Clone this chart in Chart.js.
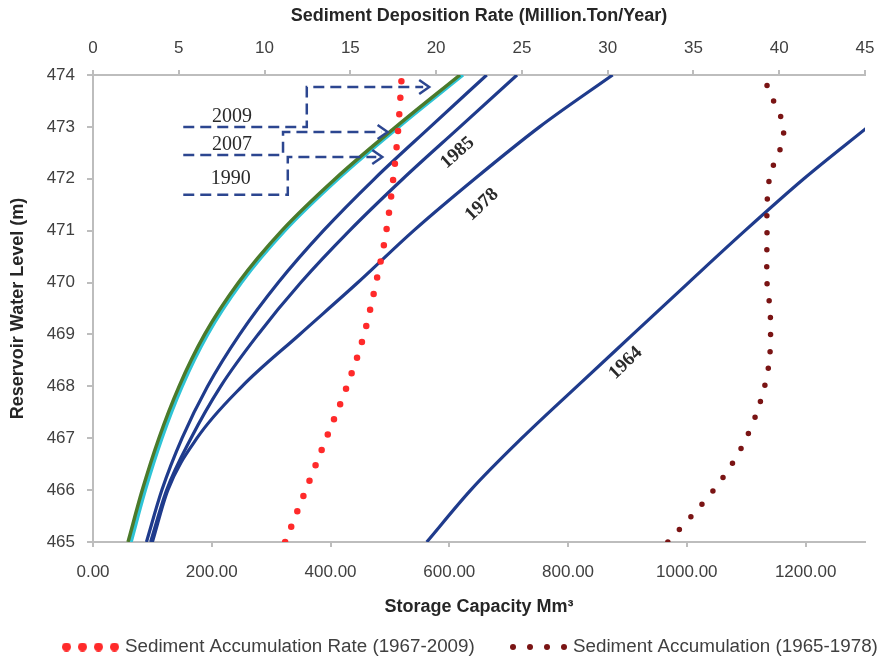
<!DOCTYPE html>
<html>
<head>
<meta charset="utf-8">
<script src="https://cdn.jsdelivr.net/npm/chart.js@4.4.0/dist/chart.umd.min.js"></script>
<style>
  html, body { margin: 0; padding: 0; background: #fff; }
</style>
</head>
<body>
<canvas id="chart" width="891" height="664"></canvas>
<script>
// water levels (m) and storage capacity (Mm3) of each survey
const levels = [465, 466, 467, 468, 469, 470, 471, 472, 473, 474];
const cap2009 = [59, 83, 111, 145, 188, 245, 318, 408, 510, 618];
const cap2007 = [64, 88, 116, 150, 193, 250, 323, 413, 515, 623];
const cap1990 = [90, 116, 150, 193, 247, 312, 388, 474, 568, 663];
const cap1985 = [97, 124, 165, 215, 278, 350, 432, 522, 618, 714];
const cap1978 = [100, 126, 175, 251, 348, 446, 540, 643, 752, 875];
const levels1964 = [465, 466, 467, 468, 469, 470, 471, 472, 473];
const cap1964 = [562, 636, 722, 815, 909, 1003, 1098, 1197, 1305];

// sediment deposition rate (million ton / year) - top axis
const rateLevels = [465, 466, 467, 468, 469, 470, 471, 472, 473, 474];
const rate = [11.2, 12.4, 13.6, 14.8, 15.8, 16.5, 17.1, 17.5, 17.8, 18.0];

// sediment accumulation 1965-1978
const accumLevels = [465, 465.5, 466, 466.5, 467, 467.5, 468, 468.5, 469, 469.5, 470, 471, 471.5, 472, 472.3, 472.6, 472.9, 473.2, 473.5, 473.8];
const accum = [968, 1008, 1045, 1076, 1100, 1118, 1131, 1139, 1141, 1140, 1135, 1135, 1135, 1139, 1147, 1158, 1163, 1158, 1146, 1135];

// dashed call-outs (storage capacity, level)
const tagNames = ["2009", "2007", "1990"];
const tagX = [234, 234, 232];
const tagY = [473.2, 472.65, 472.0];
const call2009X = [152, 360, 360, 556];
const call2009Y = [473.0, 473.0, 473.77, 473.77];
const call2007X = [152, 320, 320, 486];
const call2007Y = [472.46, 472.46, 472.9, 472.9];
const call1990X = [152, 328, 328, 477];
const call1990Y = [471.69, 471.69, 472.42, 472.42];

// year labels written along the curves
const curveNames = ["1985", "1978", "1964"];
const curveX = [614, 655, 897];
const curveY = [472.5, 471.5, 468.45];

const navy = "#1f3b8c";
const dashNavy = "#2c4690";
const tickFont = { family: "Liberation Sans", size: 17 };
const titleFont = { family: "Liberation Sans", size: 18, weight: "bold" };

const pts = (xs, ys) => xs.map((v, i) => ({ x: v, y: ys[i] }));

function dotIcon(color, radius, step) {
  const c = document.createElement("canvas");
  c.width = radius * 2 + step * 3;
  c.height = radius * 2;
  const g = c.getContext("2d");
  g.fillStyle = color;
  for (let i = 0; i < 4; i++) {
    g.beginPath();
    g.arc(radius + i * step, radius, radius, 0, Math.PI * 2);
    g.fill();
  }
  return c;
}
const legendIcons = {
  3: dotIcon("#ff2a2a", 4.5, 16),
  4: dotIcon("#7a1414", 3, 17),
};

function curve(data, color, width) {
  return {
    data: data,
    showLine: true,
    borderColor: color,
    borderWidth: width,
    pointRadius: 0,
    cubicInterpolationMode: "monotone",
    xAxisID: "x",
  };
}
function callout(data) {
  return {
    data: data,
    showLine: true,
    borderColor: dashNavy,
    borderWidth: 2.5,
    borderDash: [11, 6],
    pointRadius: 0,
    tension: 0,
    xAxisID: "x",
  };
}

const annotate = {
  id: "annotate",
  afterDatasetsDraw(chart) {
    const { ctx, scales } = chart;
    const x = scales.x;
    const y = scales.y;
    ctx.save();
    // arrow heads at the end of each call-out
    ctx.strokeStyle = dashNavy;
    ctx.lineWidth = 2.5;
    [call2009X, call2007X, call1990X].forEach((xs, i) => {
      const ys = [call2009Y, call2007Y, call1990Y][i];
      const px = x.getPixelForValue(xs[xs.length - 1]) + 6;
      const py = y.getPixelForValue(ys[ys.length - 1]);
      ctx.beginPath();
      ctx.moveTo(px - 10, py - 7);
      ctx.lineTo(px, py);
      ctx.lineTo(px - 10, py + 7);
      ctx.stroke();
    });
    ctx.fillStyle = "#2a2a2a";
    ctx.textAlign = "center";
    ctx.textBaseline = "middle";
    ctx.font = '20px "Liberation Serif"';
    tagNames.forEach((t, i) => {
      ctx.fillText(t, x.getPixelForValue(tagX[i]), y.getPixelForValue(tagY[i]));
    });
    ctx.font = 'bold 19px "Liberation Serif"';
    const angles = [-0.72, -0.76, -0.76];
    curveNames.forEach((t, i) => {
      ctx.save();
      ctx.translate(x.getPixelForValue(curveX[i]), y.getPixelForValue(curveY[i]));
      ctx.rotate(angles[i]);
      ctx.fillText(t, 0, 0);
      ctx.restore();
    });
    ctx.restore();
  },
};

// legend with the four-dot line samples under the x axis title
const dotLegend = {
  id: "dotLegend",
  afterDraw(chart) {
    const ctx = chart.ctx;
    const rowY = 647;
    const starts = [62, 510];
    ctx.save();
    ctx.font = '18.8px "Liberation Sans"';
    ctx.fillStyle = "#404040";
    ctx.textAlign = "left";
    ctx.textBaseline = "middle";
    [3, 4].forEach((di, i) => {
      const icon = legendIcons[di];
      ctx.drawImage(icon, starts[i], rowY - icon.height / 2);
      ctx.fillText(chart.data.datasets[di].label, starts[i] + 63, rowY);
    });
    ctx.restore();
  },
};

new Chart(document.getElementById("chart"), {
  type: "scatter",
  data: {
    datasets: [
      callout(pts(call2009X, call2009Y)),
      callout(pts(call2007X, call2007Y)),
      callout(pts(call1990X, call1990Y)),
      {
        label: "Sediment Accumulation Rate (1967-2009)",
        data: pts(rate, rateLevels),
        showLine: true,
        borderColor: "#ff2a2a",
        borderWidth: 6.5,
        borderDash: [0, 16.5],
        borderCapStyle: "round",
        pointRadius: 0,
        cubicInterpolationMode: "monotone",
        xAxisID: "x2",
      },
      {
        label: "Sediment Accumulation (1965-1978)",
        data: pts(accum, accumLevels),
        showLine: true,
        borderColor: "#7a1414",
        borderWidth: 5.5,
        borderDash: [0, 17],
        borderCapStyle: "round",
        pointRadius: 0,
        tension: 0.3,
        xAxisID: "x",
      },
      curve(pts(cap2009, levels), "#4b7a2a", 3.5),
      curve(pts(cap2007, levels), "#2ec4d6", 3.5),
      curve(pts(cap1990, levels), navy, 3.2),
      curve(pts(cap1985, levels), navy, 3.2),
      curve(pts(cap1978, levels), navy, 3.2),
      curve(pts(cap1964, levels1964), navy, 3.2),
    ],
  },
  options: {
    responsive: false,
    animation: false,
    devicePixelRatio: 1,
    layout: { padding: 0 },
    plugins: {
      tooltip: { enabled: false },
      legend: { display: false },
    },
    scales: {
      x: {
        type: "linear",
        position: "bottom",
        min: 0,
        max: 1300,
        border: { color: "#bdbdbd", width: 2 },
        grid: { drawOnChartArea: false, tickLength: 5, color: "#bdbdbd", lineWidth: 2 },
        ticks: {
          stepSize: 200,
          includeBounds: false,
          maxRotation: 0,
          autoSkip: false,
          padding: 15,
          color: "#404040",
          font: tickFont,
          callback: (v) => v.toFixed(2),
        },
        title: {
          display: true,
          text: "Storage Capacity Mm³",
          color: "#262626",
          font: titleFont,
          padding: { top: 4, bottom: 46 },
        },
        afterFit(s) { s.height = 122; },
      },
      x2: {
        type: "linear",
        position: "top",
        min: 0,
        max: 45,
        border: { color: "#bdbdbd", width: 2 },
        grid: { drawOnChartArea: false, tickLength: 5, color: "#bdbdbd", lineWidth: 2 },
        ticks: {
          stepSize: 5,
          maxRotation: 0,
          autoSkip: false,
          padding: 11,
          color: "#404040",
          font: tickFont,
        },
        title: {
          display: true,
          text: "Sediment Deposition Rate (Million.Ton/Year)",
          color: "#262626",
          font: titleFont,
          padding: { top: 5, bottom: 4 },
        },
        afterFit(s) { s.height = 75; },
      },
      y: {
        type: "linear",
        position: "left",
        min: 465,
        max: 474,
        border: { color: "#bdbdbd", width: 2 },
        grid: { drawOnChartArea: false, tickLength: 6, color: "#bdbdbd", lineWidth: 2 },
        ticks: {
          stepSize: 1,
          padding: 12,
          color: "#404040",
          font: tickFont,
        },
        title: {
          display: true,
          text: "Reservoir Water Level (m)",
          color: "#262626",
          font: titleFont,
          padding: { top: 7, bottom: 4 },
        },
        afterFit(s) { s.width = 93; },
      },
      yR: {
        type: "linear",
        position: "right",
        display: true,
        border: { display: false },
        grid: { display: false },
        ticks: { display: false },
        afterFit(s) { s.width = 26; },
      },
    },
  },
  plugins: [annotate, dotLegend],
});
</script>
</body>
</html>
